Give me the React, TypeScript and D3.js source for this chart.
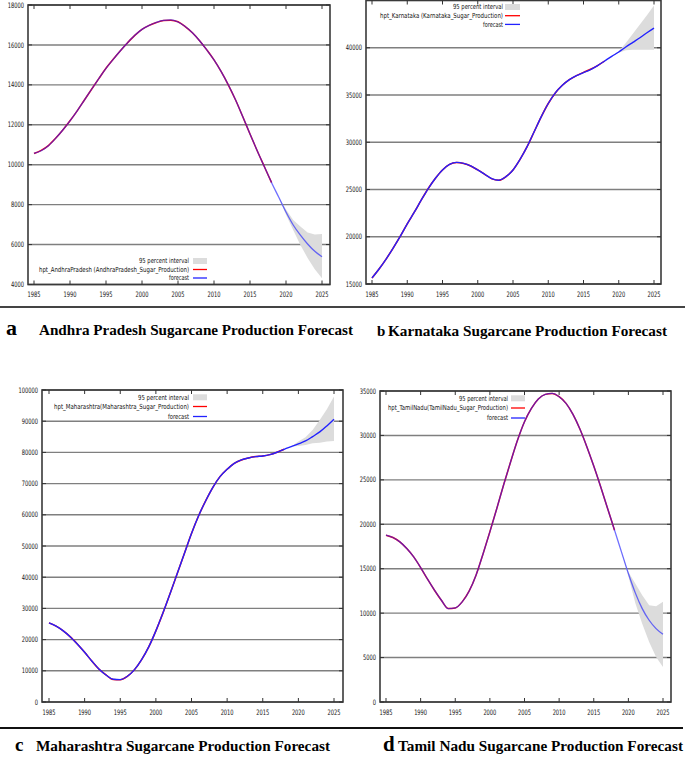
import React from 'react';
import * as d3 from 'd3';

const YEARS = [1985, 1986, 1987, 1988, 1989, 1990, 1991, 1992, 1993, 1994, 1995, 1996, 1997, 1998, 1999, 2000, 2001, 2002, 2003, 2004, 2005, 2006, 2007, 2008, 2009, 2010, 2011, 2012, 2013, 2014, 2015, 2016, 2017, 2018, 2019, 2020, 2021, 2022, 2023, 2024, 2025];
const OBS_YEARS = [1985, 1986, 1987, 1988, 1989, 1990, 1991, 1992, 1993, 1994, 1995, 1996, 1997, 1998, 1999, 2000, 2001, 2002, 2003, 2004, 2005, 2006, 2007, 2008, 2009, 2010, 2011, 2012, 2013, 2014, 2015, 2016, 2017, 2018];
const CI_YEARS = [2019, 2020, 2021, 2022, 2023, 2024, 2025];
const X_TICKS = [1985, 1990, 1995, 2000, 2005, 2010, 2015, 2020, 2025];

// Andhra Pradesh
const AP_FORECAST = [10570, 10700, 10950, 11320, 11740, 12200, 12700, 13240, 13780, 14310, 14830, 15280, 15710, 16110, 16480, 16780, 16980, 17130, 17230, 17250, 17150, 16920, 16610, 16210, 15750, 15250, 14660, 13990, 13240, 12400, 11540, 10700, 9900, 9100, 8370, 7630, 6980, 6470, 6030, 5660, 5390];
const AP_OBSERVED = [10560, 10720, 10960, 11320, 11740, 12200, 12700, 13240, 13780, 14310, 14830, 15280, 15710, 16110, 16480, 16780, 16980, 17120, 17220, 17240, 17160, 16920, 16610, 16210, 15750, 15250, 14660, 13990, 13240, 12400, 11540, 10700, 9900, 9100];
const AP_CI_LOW = [8370, 7500, 6730, 5980, 5330, 4760, 4310];
const AP_CI_HIGH = [8370, 7760, 7230, 6900, 6600, 6510, 6530];
const AP_YTICKS = [4000, 6000, 8000, 10000, 12000, 14000, 16000, 18000];

// Karnataka
const KA_FORECAST = [15640, 16590, 17640, 18800, 20030, 21370, 22600, 23900, 25130, 26190, 27070, 27660, 27870, 27770, 27490, 27070, 26610, 26150, 25980, 26360, 27070, 28190, 29530, 31110, 32690, 34100, 35220, 36030, 36630, 37050, 37370, 37690, 38110, 38600, 39090, 39550, 40080, 40570, 41060, 41590, 42080];
const KA_OBSERVED = [15640, 16590, 17640, 18800, 20030, 21370, 22600, 23900, 25130, 26190, 27070, 27660, 27850, 27750, 27490, 27070, 26610, 26130, 25980, 26360, 27070, 28190, 29530, 31110, 32690, 34100, 35220, 36030, 36630, 37050, 37400, 37720, 38110, 38600];
const KA_CI_LOW = [39090, 39480, 39730, 39800, 39800, 39800, 39800];
const KA_CI_HIGH = [39090, 39620, 40500, 41480, 42470, 43450, 44470];
const KA_YTICKS = [15000, 20000, 25000, 30000, 35000, 40000];

// Maharashtra
const MH_FORECAST = [25360, 24290, 22790, 20870, 18510, 15940, 13160, 10590, 8670, 7280, 7170, 8240, 10380, 13590, 17660, 22790, 28570, 34780, 41200, 47620, 54040, 59710, 64520, 68800, 72230, 74580, 76500, 77580, 78220, 78650, 78860, 79290, 80040, 81000, 81860, 82710, 83670, 85070, 86560, 88490, 90630];
const MH_OBSERVED = [25360, 24290, 22790, 20870, 18510, 15940, 13160, 10590, 8670, 7180, 7100, 8240, 10380, 13590, 17660, 22790, 28570, 34780, 41200, 47620, 54040, 59710, 64520, 68800, 72230, 74580, 76500, 77580, 78220, 78650, 78860, 79290, 80040, 81000];
const MH_CI_LOW = [81860, 82070, 82390, 82900, 83100, 83460, 83670];
const MH_CI_HIGH = [81860, 83460, 84850, 87200, 90400, 93840, 97900];
const MH_YTICKS = [0, 10000, 20000, 30000, 40000, 50000, 60000, 70000, 80000, 90000, 100000];

// Tamil Nadu
const TN_FORECAST = [18775, 18510, 18020, 17270, 16330, 15130, 13820, 12580, 11450, 10510, 10590, 11270, 12470, 14270, 16630, 19150, 21780, 24480, 27040, 29480, 31540, 33040, 34100, 34620, 34730, 34360, 33610, 32370, 30720, 28730, 26550, 24220, 21780, 19340, 16900, 14460, 12280, 10510, 9200, 8260, 7620];
const TN_OBSERVED = [18775, 18510, 18020, 17270, 16330, 15130, 13820, 12580, 11450, 10510, 10590, 11270, 12470, 14270, 16630, 19150, 21780, 24480, 27040, 29480, 31540, 33040, 34100, 34620, 34730, 34360, 33610, 32370, 30720, 28730, 26550, 24220, 21780, 19340];
const TN_CI_LOW = [16900, 14160, 11150, 8820, 6760, 5070, 3940];
const TN_CI_HIGH = [16900, 14640, 13330, 12020, 10890, 10780, 11270];
const TN_YTICKS = [0, 5000, 10000, 15000, 20000, 25000, 30000, 35000];

const LEGEND_INTERVAL = '95 percent interval';
const LEGEND_FORECAST = 'forecast';

const NUM_FONT = "'Liberation Sans Narrow', 'DejaVu Sans Condensed', 'DejaVu Sans', sans-serif";
const SERIF = "'Liberation Serif', 'Times New Roman', serif";

type PanelCfg = {
  forecast: number[];
  observed: number[];
  ciLow: number[];
  ciHigh: number[];
  yTicks: number[];
  yDomain: [number, number];
  seriesLabel: string;
  frame: { left: number; right: number; top: number; bottom: number };
  xRange: [number, number];
  xLabelY: number;
  legend: { textRight: number; sampleX0: number; sampleX1: number; rowY: number[]; widths: number[] };
  blueOpacity: number;
  blueWidth: number;
};

const panels: PanelCfg[] = [
  {
    forecast: AP_FORECAST, observed: AP_OBSERVED, ciLow: AP_CI_LOW, ciHigh: AP_CI_HIGH,
    yTicks: AP_YTICKS, yDomain: [4000, 18000],
    seriesLabel: 'hpt_AndhraPradesh (AndhraPradesh_Sugar_Production)',
    frame: { left: 28, right: 330, top: 5, bottom: 284.5 },
    xRange: [34, 322], xLabelY: 297,
    legend: { textRight: 189, sampleX0: 193, sampleX1: 207, rowY: [261, 269.5, 278], widths: [50, 150, 20] },
    blueOpacity: 0.65, blueWidth: 1.3,
  },
  {
    forecast: KA_FORECAST, observed: KA_OBSERVED, ciLow: KA_CI_LOW, ciHigh: KA_CI_HIGH,
    yTicks: KA_YTICKS, yDomain: [15000, 45000],
    seriesLabel: 'hpt_Karnataka (Karnataka_Sugar_Production)',
    frame: { left: 366, right: 661, top: 0.5, bottom: 284 },
    xRange: [372, 654], xLabelY: 296.5,
    legend: { textRight: 503, sampleX0: 505, sampleX1: 520, rowY: [7, 15.7, 24.4], widths: [50, 123, 20] },
    blueOpacity: 1, blueWidth: 1.4,
  },
  {
    forecast: MH_FORECAST, observed: MH_OBSERVED, ciLow: MH_CI_LOW, ciHigh: MH_CI_HIGH,
    yTicks: MH_YTICKS, yDomain: [0, 100000],
    seriesLabel: 'hpt_Maharashtra(Maharashtra_Sugar_Production)',
    frame: { left: 42, right: 343, top: 390, bottom: 702 },
    xRange: [49, 334], xLabelY: 714.5,
    legend: { textRight: 189, sampleX0: 193, sampleX1: 207, rowY: [397.3, 406.5, 416.5], widths: [51, 135, 21] },
    blueOpacity: 1, blueWidth: 1.4,
  },
  {
    forecast: TN_FORECAST, observed: TN_OBSERVED, ciLow: TN_CI_LOW, ciHigh: TN_CI_HIGH,
    yTicks: TN_YTICKS, yDomain: [0, 35000],
    seriesLabel: 'hpt_TamilNadu(TamilNadu_Sugar_Production)',
    frame: { left: 380, right: 671, top: 391, bottom: 702 },
    xRange: [386, 663], xLabelY: 714.5,
    legend: { textRight: 508, sampleX0: 511, sampleX1: 525, rowY: [398.3, 408, 418], widths: [49, 120, 21] },
    blueOpacity: 0.65, blueWidth: 1.3,
  },
];

function Panel({ cfg }: { cfg: PanelCfg }) {
  const { frame } = cfg;
  const x = d3.scaleLinear().domain([1985, 2025]).range(cfg.xRange);
  const y = d3.scaleLinear().domain(cfg.yDomain).range([frame.bottom, frame.top]);
  const line = d3.line<[number, number]>().x(d => x(d[0])).y(d => y(d[1])).curve(d3.curveMonotoneX);
  const area = d3.area<number>()
    .x((_, i) => x(CI_YEARS[i]))
    .y0((_, i) => y(cfg.ciLow[i]))
    .y1((_, i) => y(cfg.ciHigh[i]));
  const fcPts = YEARS.map((yr, i) => [yr, cfg.forecast[i]] as [number, number]);
  const obsPts = OBS_YEARS.map((yr, i) => [yr, cfg.observed[i]] as [number, number]);
  const tl = 4;
  const lg = cfg.legend;
  return (
    <g>
      {cfg.yTicks.map(t => (
        <line key={'g' + t} x1={frame.left} x2={frame.right} y1={y(t)} y2={y(t)} stroke="#7f7f7f" strokeWidth={1.4} />
      ))}
      <path d={area(cfg.ciLow) || ''} fill="#dcdcdc" stroke="none" />
      <path d={line(obsPts) || ''} fill="none" stroke="#ff0000" strokeWidth={1.5} />
      <path d={line(fcPts) || ''} fill="none" stroke="#2222ff" strokeOpacity={cfg.blueOpacity} strokeWidth={cfg.blueWidth} />
      <rect x={frame.left} y={frame.top} width={frame.right - frame.left} height={frame.bottom - frame.top} fill="none" stroke="#3a3a3a" strokeWidth={1.6} />
      {cfg.yTicks.map(t => (
        <g key={'yt' + t}>
          <line x1={frame.left} x2={frame.left + tl} y1={y(t)} y2={y(t)} stroke="#333" strokeWidth={1} />
          <line x1={frame.right} x2={frame.right - tl} y1={y(t)} y2={y(t)} stroke="#333" strokeWidth={1} />
          <text x={frame.left - 4} y={y(t)} dy="0.35em" textAnchor="end" fontFamily={NUM_FONT} fontSize={7.5} fill="#111"
            textLength={String(t).length * 3.25} lengthAdjust="spacingAndGlyphs">{t}</text>
        </g>
      ))}
      {X_TICKS.map(t => (
        <g key={'xt' + t}>
          <line x1={x(t)} x2={x(t)} y1={frame.bottom} y2={frame.bottom - tl} stroke="#333" strokeWidth={1} />
          <line x1={x(t)} x2={x(t)} y1={frame.top} y2={frame.top + tl} stroke="#333" strokeWidth={1} />
          <text x={x(t)} y={cfg.xLabelY} textAnchor="middle" fontFamily={NUM_FONT} fontSize={7.5} fill="#111"
            textLength={13} lengthAdjust="spacingAndGlyphs">{t}</text>
        </g>
      ))}
      {[LEGEND_INTERVAL, cfg.seriesLabel, LEGEND_FORECAST].map((label, i) => (
        <text key={'lt' + i} x={lg.textRight} y={lg.rowY[i]} dy="0.35em" textAnchor="end" fontFamily={NUM_FONT} fontSize={7}
          fill="#111" textLength={lg.widths[i]} lengthAdjust="spacingAndGlyphs">{label}</text>
      ))}
      <rect x={lg.sampleX0} y={lg.rowY[0] - 3} width={lg.sampleX1 - lg.sampleX0} height={6} fill="#dcdcdc" />
      <line x1={lg.sampleX0} x2={lg.sampleX1} y1={lg.rowY[1]} y2={lg.rowY[1]} stroke="#ff0000" strokeWidth={1.3} />
      <line x1={lg.sampleX0} x2={lg.sampleX1} y1={lg.rowY[2]} y2={lg.rowY[2]} stroke="#2222ff" strokeWidth={1.3} />
    </g>
  );
}

export default function App() {
  return (
    <svg width={685} height={762} viewBox="0 0 685 762" style={{ position: 'absolute', left: 0, top: 0, background: '#fff' }}>
      <rect x={0} y={0} width={685} height={762} fill="#fff" />
      {panels.map((p, i) => <Panel key={i} cfg={p} />)}
      <line x1={0} x2={685} y1={307} y2={307} stroke="#444" strokeWidth={2} />
      <line x1={0} x2={683} y1={728} y2={728} stroke="#111" strokeWidth={2} />
      <g fontFamily={SERIF} fontWeight="bold" fill="#000">
        <text x={6} y={335} fontSize={22}>a</text>
        <text x={39} y={335} fontSize={14} textLength={314} lengthAdjust="spacingAndGlyphs">Andhra Pradesh Sugarcane Production Forecast</text>
        <text x={377} y={336} fontSize={15}>b</text>
        <text x={388} y={336} fontSize={14} textLength={279} lengthAdjust="spacingAndGlyphs">Karnataka Sugarcane Production Forecast</text>
        <text x={15} y={751} fontSize={19}>c</text>
        <text x={36} y={751} fontSize={14} textLength={294} lengthAdjust="spacingAndGlyphs">Maharashtra Sugarcane Production Forecast</text>
        <text x={383} y={751} fontSize={21}>d</text>
        <text x={398} y={751} fontSize={14} textLength={285} lengthAdjust="spacingAndGlyphs">Tamil Nadu Sugarcane Production Forecast</text>
      </g>
    </svg>
  );
}
